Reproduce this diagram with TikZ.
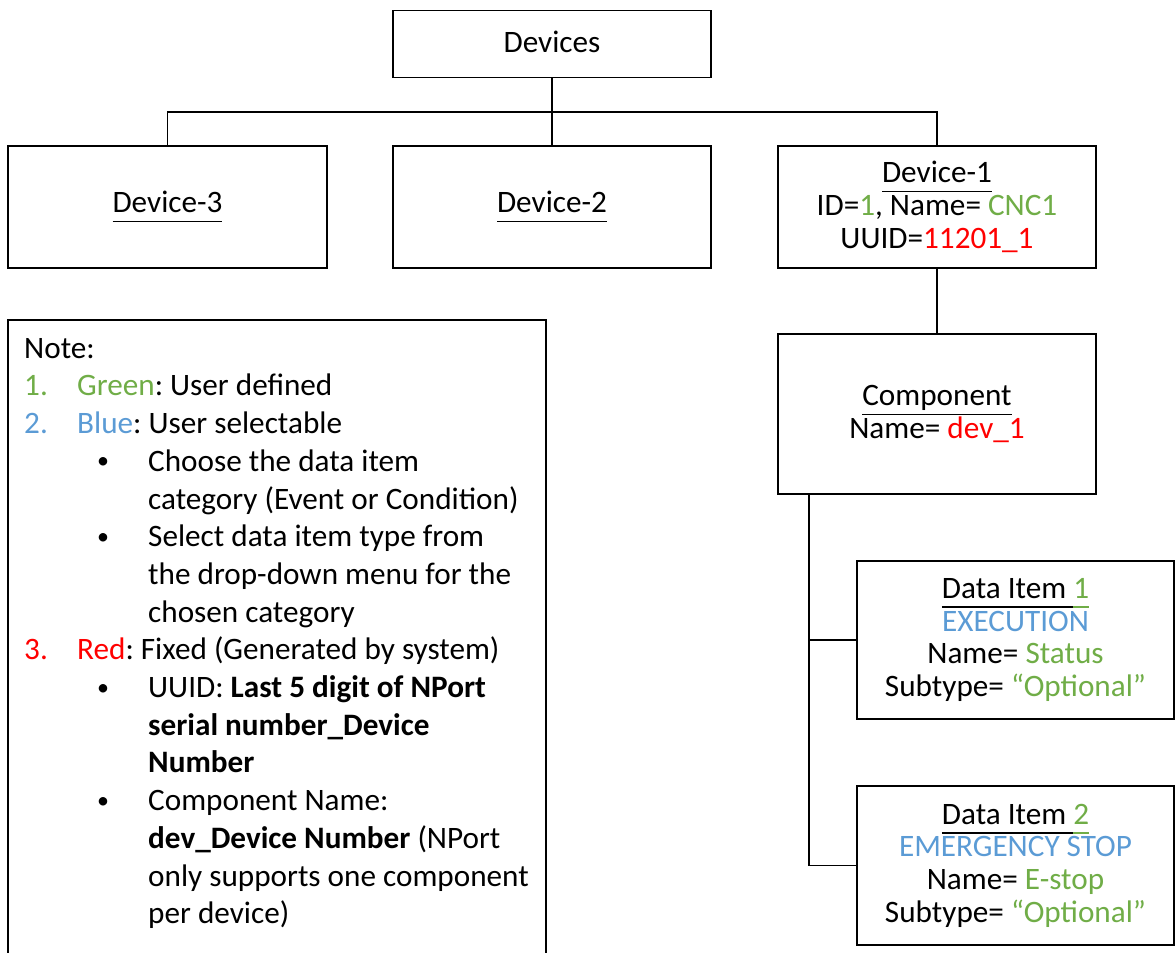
\documentclass[tikz,border=0pt]{standalone}
\usepackage{fontspec}
\setmainfont{Carlito}
\usepackage{xcolor}
\usetikzlibrary{positioning}
\definecolor{igreen}{HTML}{70AD47}
\definecolor{iblue}{HTML}{5B9BD5}
\definecolor{ired}{HTML}{FF0000}
\frenchspacing
\newsavebox{\ulnbox}
\newcommand{\uln}[1]{\sbox{\ulnbox}{#1}\rlap{\rule[-9.5pt]{\wd\ulnbox}{1.5pt}}\usebox{\ulnbox}}
\newcommand{\dotmark}{\makebox[52pt][l]{\hspace*{1pt}\raisebox{2.5pt}{\fontsize{24}{24}\selectfont\textbullet}}}
\tikzset{
  box/.style={draw,line width=1.6pt,inner sep=0pt,align=center,font=\fontsize{31.2}{32.7}\selectfont},
  wire/.style={line width=1.6pt},
  notetext/.style={anchor=north west,inner sep=0pt,align=left,font=\fontsize{31.2}{37.7}\selectfont}
}

\begin{document}
\begin{tikzpicture}[x=1pt,y=-1pt]
  \useasboundingbox (0,0) rectangle (1176,953);
  \node[box,minimum width=318,minimum height=67] (devs) at (552,44) {Devices\vphantom{p}};
  \node[box,minimum width=319,minimum height=122] (dev3) at (167.5,207) {\uln{Device-3}};
  \node[box,minimum width=318,minimum height=122] (dev2) at (552,207) {\uln{Device-2}};
  \node[box,minimum width=318,minimum height=122] (dev1) at (937,207)
    {\uln{Device-1}\\ID=\textcolor{igreen}{1}, Name= \textcolor{igreen}{CNC1}\\UUID=\textcolor{ired}{11201\_1}};
  \node[box,minimum width=318,minimum height=160] (comp) at (937,414)
    {\uln{Component}\\Name= \textcolor{ired}{dev\_1}};
  \node[box,minimum width=317,minimum height=158] (item1) at (1015.5,640)
    {\uln{Data Item\ }\textcolor{igreen}{\uln{1}}\\\textcolor{iblue}{EXECUTION}\\Name= \textcolor{igreen}{Status}\\Subtype= \textcolor{igreen}{“Optional”}};
  \node[box,minimum width=317,minimum height=159] (item2) at (1015.5,865.5)
    {\uln{Data Item\ }\textcolor{igreen}{\uln{2}}\\\textcolor{iblue}{EMERGENCY STOP}\\Name= \textcolor{igreen}{E-stop}\\Subtype= \textcolor{igreen}{“Optional”}};
  \coordinate (split) at (552,112);
  \coordinate (trunk) at (809,494);
  \draw[wire] (devs.south) -- (dev2.north);
  \draw[wire] (dev3.north) |- (split) -| (dev1.north);
  \draw[wire] (dev1.south) -- (comp.north);
  \draw[wire] (trunk) |- (item2.west);
  \draw[wire] (trunk |- item1.west) -- (item1.west);
  \draw[wire] (8,965) |- (546,320) -- (546,965);
  \node[notetext] (note) at (24,338) {Note:\\
    \makebox[53pt][l]{\textcolor{igreen}{1.}}\textcolor{igreen}{Green}: User defined\\
    \makebox[53pt][l]{\textcolor{iblue}{2.}}\textcolor{iblue}{Blue}: User selectable\\
    \hspace*{72pt}\dotmark Choose the data item\\
    \hspace*{124pt}category (Event or Condition)\\
    \hspace*{72pt}\dotmark Select data item type from\\
    \hspace*{124pt}the drop-down menu for the\\
    \hspace*{124pt}chosen category\\
    \makebox[53pt][l]{\textcolor{ired}{3.}}\textcolor{ired}{Red}: Fixed (Generated by system)\\
    \hspace*{72pt}\dotmark UUID: \textbf{Last 5 digit of NPort}\\
    \hspace*{124pt}\textbf{serial number\_Device}\\
    \hspace*{124pt}\textbf{Number}\\
    \hspace*{72pt}\dotmark Component Name:\\
    \hspace*{124pt}\textbf{dev\_Device Number} (NPort\\
    \hspace*{124pt}only supports one component\\
    \hspace*{124pt}per device)};
\end{tikzpicture}
\end{document}
